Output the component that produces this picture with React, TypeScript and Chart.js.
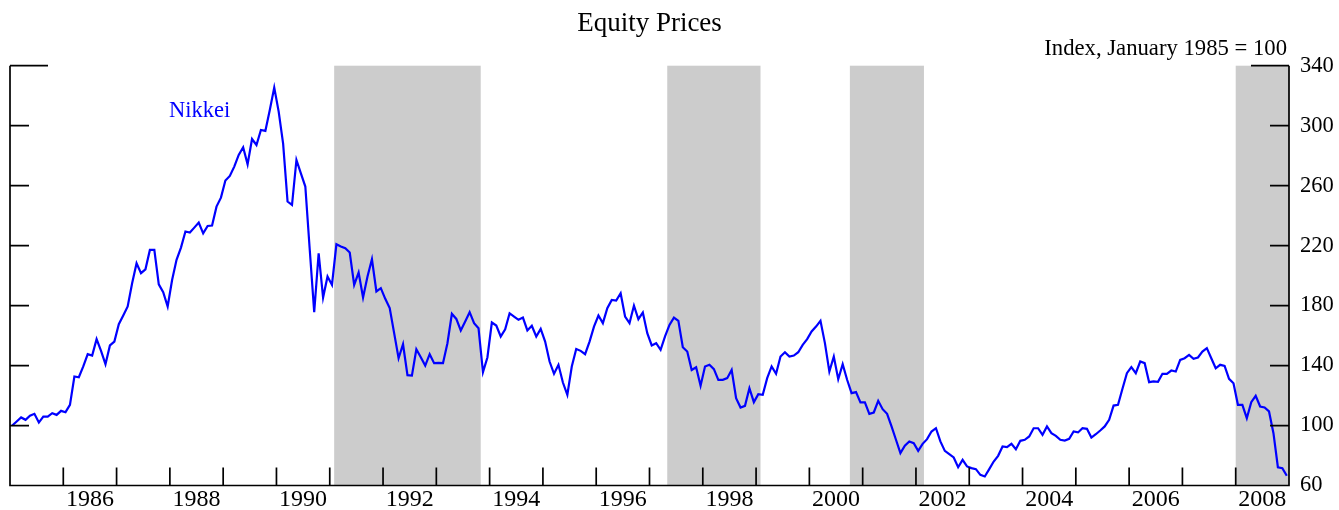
import React, { useEffect, useRef } from "react";
import { Chart, registerables } from "chart.js";

Chart.register(...registerables);

const START_YEAR = 1985;
const END_YEAR = 2009;

// Monthly Nikkei index (Jan 1985 = 100), Jan 1985 .. Dec 2008
const nikkei1985_1990 = [
  100, 102.7, 105.4, 103.8, 106.5, 107.8, 102.0, 106.0, 106.0, 108.2, 107.1, 109.8,
  108.9, 113.8, 132.7, 132.2, 139.4, 147.6, 146.7, 157.6, 149.8, 140.9, 153.4, 156.0,
  167.6, 173.4, 179.4, 194.9, 208.2, 201.6, 204.2, 217.1, 217.1, 194.2, 188.9, 179.4,
  197.1, 210.5, 218.7, 229.4, 228.7, 232.0, 235.4, 228.2, 233.1, 233.4, 246.0, 252.0,
  263.4, 266.5, 272.7, 280.5, 285.6, 274.2, 291.1, 287.1, 297.1, 296.5, 310.5, 325.4,
  309.4, 288.0, 249.4, 247.1, 277.1, 268.2, 259.4, 217.1, 175.6, 214.9, 185.4, 199.4,
];
const nikkei1991_1996 = [
  193.8, 220.9, 219.4, 218.2, 215.4, 193.8, 202.0, 185.4, 199.4, 210.9, 189.4, 191.6,
  184.5, 178.3, 161.6, 144.9, 154.2, 133.6, 133.3, 150.9, 145.6, 140.0, 147.6, 141.6,
  141.8, 141.6, 154.9, 174.5, 171.1, 163.4, 169.4, 175.6, 168.3, 164.9, 135.6, 145.4,
  168.7, 166.7, 159.4, 164.2, 174.9, 172.7, 170.5, 172.0, 163.4, 166.5, 159.4, 164.5,
  156.0, 142.7, 134.5, 140.5, 128.7, 120.5, 139.4, 151.1, 149.8, 147.6, 156.0, 166.0,
  173.4, 168.3, 178.2, 183.8, 183.4, 188.2, 172.7, 168.3, 180.0, 170.9, 175.4, 161.6,
];
const nikkei1997_2002 = [
  153.4, 154.9, 150.5, 159.4, 167.1, 172.0, 169.8, 152.2, 149.4, 137.1, 138.9, 126.5,
  139.4, 140.5, 137.6, 130.5, 130.5, 131.6, 137.1, 118.2, 112.0, 113.1, 124.9, 115.6,
  120.9, 120.5, 131.6, 139.4, 134.5, 146.0, 148.9, 146.0, 146.7, 148.9, 153.8, 157.6,
  162.7, 166.0, 169.8, 155.0, 136.0, 146.0, 130.9, 140.9, 130.5, 121.6, 122.3, 115.4,
  115.4, 107.8, 108.7, 116.5, 110.9, 107.8, 99.4, 90.5, 81.6, 86.5, 89.4, 88.2,
  83.1, 87.8, 90.9, 96.0, 98.2, 89.4, 83.1, 80.9, 78.7, 72.2, 77.1, 72.7,
];
const nikkei2003_2008 = [
  71.6, 70.9, 67.1, 66.0, 70.9, 76.0, 79.8, 86.0, 85.6, 87.8, 84.2, 89.8,
  90.5, 92.7, 98.2, 98.2, 93.8, 99.4, 94.9, 93.1, 90.5, 90.0, 91.1, 96.0,
  95.4, 98.2, 97.8, 92.0, 94.2, 96.7, 99.4, 103.8, 113.3, 113.8, 124.5, 134.9,
  138.9, 134.9, 142.7, 141.6, 128.9, 129.4, 129.1, 134.5, 134.5, 136.7, 136.0, 143.8,
  144.9, 147.1, 144.5, 145.4, 149.3, 151.6, 144.9, 138.2, 140.5, 139.8, 131.1, 128.2,
  113.8, 113.8, 104.9, 115.6, 119.8, 112.7, 112.0, 109.4, 94.9, 72.2, 71.6, 66.5,
];
const nikkei = [...nikkei1985_1990, ...nikkei1991_1996, ...nikkei1997_2002, ...nikkei2003_2008];

const xLabelYears = [1986, 1988, 1990, 1992, 1994, 1996, 1998, 2000, 2002, 2004, 2006, 2008];
const xTickYears = [
  1986, 1987, 1988, 1989, 1990, 1991, 1992, 1993, 1994, 1995, 1996, 1997,
  1998, 1999, 2000, 2001, 2002, 2003, 2004, 2005, 2006, 2007, 2008,
];
const yTickValues = [60, 100, 140, 180, 220, 260, 300, 340];

// Shaded recession periods (fractional years)
const recessionStart = [1991.083, 1997.333, 2000.76, 2008.0];
const recessionEnd = [1993.833, 1999.083, 2002.15, 2009.0];

const TITLE = "Equity Prices";
const UNITS = "Index, January 1985 = 100";
const SERIES_LABEL = "Nikkei";

const FONT = "'Liberation Serif', 'Times New Roman', Times, serif";
const BLUE = "#0000ff";

const decorPlugin = {
  id: "decor",
  beforeDatasetsDraw(chart: any) {
    const { ctx, scales } = chart;
    const x = scales.x;
    const y = scales.y;
    const top = y.getPixelForValue(y.max);
    const bot = y.getPixelForValue(y.min);
    ctx.save();
    ctx.fillStyle = "#cccccc";
    recessionStart.forEach((s, i) => {
      const x0 = x.getPixelForValue(s);
      const x1 = x.getPixelForValue(recessionEnd[i]);
      ctx.fillRect(x0, top, x1 - x0, bot - top);
    });
    ctx.restore();
  },
  afterDatasetsDraw(chart: any) {
    const { ctx, scales } = chart;
    const x = scales.x;
    const y = scales.y;
    const left = x.getPixelForValue(x.min);
    const right = x.getPixelForValue(x.max);
    const top = y.getPixelForValue(y.max);
    const bot = y.getPixelForValue(y.min);
    ctx.save();
    ctx.strokeStyle = "#000000";
    ctx.lineWidth = 1.7;
    ctx.lineCap = "butt";
    ctx.beginPath();
    ctx.moveTo(left, top);
    ctx.lineTo(left, bot);
    ctx.lineTo(right, bot);
    ctx.lineTo(right, top);
    yTickValues.forEach((v) => {
      if (v === y.min) return;
      const py = y.getPixelForValue(v);
      const len = v === y.max ? 38 : 19;
      ctx.moveTo(left, py);
      ctx.lineTo(left + len, py);
      ctx.moveTo(right, py);
      ctx.lineTo(right - len, py);
    });
    xTickYears.forEach((yr) => {
      const px = x.getPixelForValue(yr);
      ctx.moveTo(px, bot);
      ctx.lineTo(px, bot - 18);
    });
    ctx.stroke();
    ctx.restore();
  },
  afterDraw(chart: any) {
    const { ctx, chartArea } = chart;
    ctx.save();
    ctx.fillStyle = "#000000";
    ctx.textBaseline = "alphabetic";
    ctx.font = `27px ${FONT}`;
    ctx.textAlign = "center";
    ctx.fillText(TITLE, (chartArea.left + chartArea.right) / 2, 30.5);
    ctx.font = `22.7px ${FONT}`;
    ctx.textAlign = "right";
    ctx.fillText(UNITS, chartArea.right - 2, 55);
    ctx.fillStyle = BLUE;
    ctx.font = `22.5px ${FONT}`;
    ctx.textAlign = "left";
    ctx.fillText(SERIES_LABEL, 169, 117);
    ctx.restore();
  },
};

export default function App() {
  const canvasRef = useRef<HTMLCanvasElement | null>(null);

  useEffect(() => {
    const canvas = canvasRef.current;
    if (!canvas) return;
    const chart = new Chart(canvas, {
      type: "line",
      data: {
        datasets: [
          {
            label: SERIES_LABEL,
            data: nikkei.map((v, i) => ({ x: START_YEAR + (i + 0.5) / 12, y: v })),
            borderColor: BLUE,
            backgroundColor: BLUE,
            borderWidth: 2.2,
            pointRadius: 0,
            tension: 0,
            fill: false,
          },
        ],
      },
      options: {
        animation: false,
        responsive: false,
        devicePixelRatio: 1,
        layout: { padding: { left: 10, right: 0, top: 65.7, bottom: 0 } },
        plugins: {
          legend: { display: false },
          tooltip: { enabled: false },
          title: { display: false },
        },
        scales: {
          x: {
            type: "linear",
            min: START_YEAR,
            max: END_YEAR,
            grid: { display: false, drawTicks: false },
            border: { display: false },
            afterBuildTicks: (scale: any) => {
              scale.ticks = xLabelYears.map((yr) => ({ value: yr + 0.5 }));
            },
            afterFit: (scale: any) => {
              scale.height = 24.5;
            },
            ticks: {
              autoSkip: false,
              maxRotation: 0,
              minRotation: 0,
              padding: 0,
              color: "#000000",
              font: { family: FONT, size: 24 },
              callback: (v: any) => String(Math.floor(Number(v))),
            },
          },
          y: {
            type: "linear",
            position: "right",
            min: 60,
            max: 340,
            grid: { display: false, drawTicks: false },
            border: { display: false },
            afterBuildTicks: (scale: any) => {
              scale.ticks = yTickValues.map((v) => ({ value: v }));
            },
            afterFit: (scale: any) => {
              scale.width = 50;
            },
            ticks: {
              padding: 11,
              color: "#000000",
              font: { family: FONT, size: 22.5 },
              callback: (v: any) => String(v),
            },
          },
        },
      },
      plugins: [decorPlugin],
    });
    return () => chart.destroy();
  }, []);

  return (
    <div style={{ position: "fixed", left: 0, top: 0, width: 1339, height: 510, background: "#ffffff" }}>
      <canvas ref={canvasRef} width={1339} height={510} style={{ width: 1339, height: 510, display: "block" }} />
    </div>
  );
}
